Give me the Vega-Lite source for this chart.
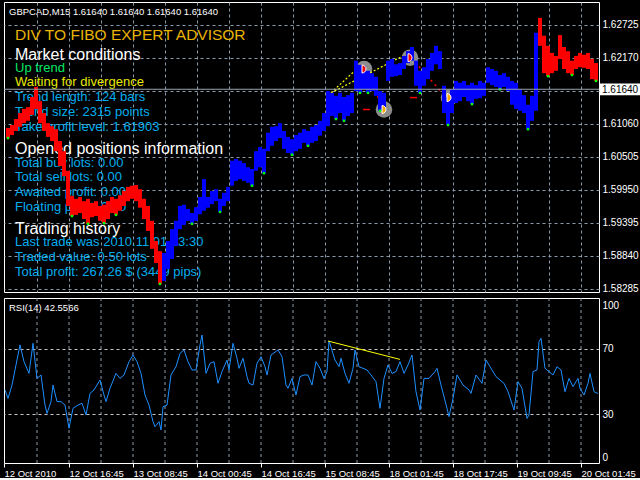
{
  "$schema": "https://vega.github.io/schema/vega-lite/v6.json",
  "background": "black",
  "padding": {"left": 2, "top": 1, "right": 0, "bottom": 0},
  "spacing": 2,
  "config": {
    "view": {"stroke": "white", "strokeWidth": 1},
    "axis": {"labelColor": "white", "labelFont": "Liberation Sans", "gridColor": "#8A9AAA", "gridOpacity": 1, "gridWidth": 1, "gridDash": [3, 3], "domain": false, "ticks": false, "labelOverlap": false},
    "text": {"font": "Liberation Sans"}
  },
  "datasets": {
    "bars": [
      {"bar": 6, "hi": 1.6099, "lo": 1.6082, "trend": "down"},
      {"bar": 10, "hi": 1.6104, "lo": 1.6087, "trend": "down"},
      {"bar": 14, "hi": 1.6114, "lo": 1.6094, "trend": "down"},
      {"bar": 18, "hi": 1.6124, "lo": 1.6101, "trend": "down"},
      {"bar": 22, "hi": 1.6131, "lo": 1.6107, "trend": "down"},
      {"bar": 26, "hi": 1.6134, "lo": 1.6111, "trend": "down"},
      {"bar": 30, "hi": 1.6151, "lo": 1.6121, "trend": "down"},
      {"bar": 34, "hi": 1.6168, "lo": 1.6131, "trend": "down"},
      {"bar": 38, "hi": 1.6144, "lo": 1.6107, "trend": "down"},
      {"bar": 42, "hi": 1.6124, "lo": 1.6094, "trend": "down"},
      {"bar": 46, "hi": 1.6107, "lo": 1.6084, "trend": "down"},
      {"bar": 50, "hi": 1.6102, "lo": 1.6077, "trend": "down"},
      {"bar": 54, "hi": 1.6097, "lo": 1.6060, "trend": "down"},
      {"bar": 58, "hi": 1.6077, "lo": 1.6035, "trend": "down"},
      {"bar": 62, "hi": 1.6060, "lo": 1.6018, "trend": "down"},
      {"bar": 66, "hi": 1.6027, "lo": 1.5968, "trend": "down"},
      {"bar": 70, "hi": 1.5985, "lo": 1.5951, "trend": "down"},
      {"bar": 74, "hi": 1.5980, "lo": 1.5953, "trend": "down"},
      {"bar": 78, "hi": 1.5983, "lo": 1.5956, "trend": "down"},
      {"bar": 82, "hi": 1.5976, "lo": 1.5946, "trend": "down"},
      {"bar": 86, "hi": 1.5980, "lo": 1.5938, "trend": "down"},
      {"bar": 90, "hi": 1.5973, "lo": 1.5949, "trend": "down"},
      {"bar": 94, "hi": 1.5976, "lo": 1.5951, "trend": "down"},
      {"bar": 98, "hi": 1.5968, "lo": 1.5943, "trend": "down"},
      {"bar": 102, "hi": 1.5970, "lo": 1.5939, "trend": "down"},
      {"bar": 106, "hi": 1.5976, "lo": 1.5946, "trend": "down"},
      {"bar": 110, "hi": 1.5983, "lo": 1.5956, "trend": "down"},
      {"bar": 114, "hi": 1.5980, "lo": 1.5953, "trend": "down"},
      {"bar": 118, "hi": 1.5986, "lo": 1.5960, "trend": "down"},
      {"bar": 122, "hi": 1.5993, "lo": 1.5968, "trend": "down"},
      {"bar": 126, "hi": 1.6000, "lo": 1.5976, "trend": "down"},
      {"bar": 130, "hi": 1.6002, "lo": 1.5980, "trend": "down"},
      {"bar": 134, "hi": 1.6003, "lo": 1.5976, "trend": "down"},
      {"bar": 138, "hi": 1.5996, "lo": 1.5965, "trend": "down"},
      {"bar": 142, "hi": 1.5980, "lo": 1.5946, "trend": "down"},
      {"bar": 146, "hi": 1.5968, "lo": 1.5926, "trend": "down"},
      {"bar": 150, "hi": 1.5943, "lo": 1.5896, "trend": "down"},
      {"bar": 154, "hi": 1.5909, "lo": 1.5872, "trend": "down"},
      {"bar": 158, "hi": 1.5892, "lo": 1.5837, "trend": "down"},
      {"bar": 162, "hi": 1.5889, "lo": 1.5842, "trend": "up"},
      {"bar": 166, "hi": 1.5909, "lo": 1.5862, "trend": "up"},
      {"bar": 170, "hi": 1.5929, "lo": 1.5879, "trend": "up"},
      {"bar": 174, "hi": 1.5943, "lo": 1.5901, "trend": "up"},
      {"bar": 178, "hi": 1.5968, "lo": 1.5929, "trend": "up"},
      {"bar": 182, "hi": 1.5970, "lo": 1.5936, "trend": "up"},
      {"bar": 186, "hi": 1.5963, "lo": 1.5943, "trend": "up"},
      {"bar": 190, "hi": 1.5956, "lo": 1.5938, "trend": "up"},
      {"bar": 194, "hi": 1.5966, "lo": 1.5943, "trend": "up"},
      {"bar": 198, "hi": 1.5983, "lo": 1.5954, "trend": "up"},
      {"bar": 202, "hi": 1.6013, "lo": 1.5960, "trend": "up"},
      {"bar": 206, "hi": 1.5983, "lo": 1.5965, "trend": "up"},
      {"bar": 210, "hi": 1.5993, "lo": 1.5971, "trend": "up"},
      {"bar": 214, "hi": 1.5996, "lo": 1.5976, "trend": "up"},
      {"bar": 218, "hi": 1.5980, "lo": 1.5958, "trend": "up"},
      {"bar": 222, "hi": 1.5990, "lo": 1.5968, "trend": "up"},
      {"bar": 226, "hi": 1.6000, "lo": 1.5976, "trend": "up"},
      {"bar": 230, "hi": 1.6044, "lo": 1.6002, "trend": "up"},
      {"bar": 234, "hi": 1.6047, "lo": 1.6010, "trend": "up"},
      {"bar": 238, "hi": 1.6044, "lo": 1.6013, "trend": "up"},
      {"bar": 242, "hi": 1.6040, "lo": 1.6010, "trend": "up"},
      {"bar": 246, "hi": 1.6033, "lo": 1.6007, "trend": "up"},
      {"bar": 250, "hi": 1.6030, "lo": 1.6002, "trend": "up"},
      {"bar": 254, "hi": 1.6060, "lo": 1.6027, "trend": "up"},
      {"bar": 258, "hi": 1.6067, "lo": 1.6033, "trend": "up"},
      {"bar": 262, "hi": 1.6064, "lo": 1.6023, "trend": "up"},
      {"bar": 266, "hi": 1.6091, "lo": 1.6060, "trend": "up"},
      {"bar": 270, "hi": 1.6101, "lo": 1.6069, "trend": "up"},
      {"bar": 274, "hi": 1.6102, "lo": 1.6077, "trend": "up"},
      {"bar": 278, "hi": 1.6107, "lo": 1.6082, "trend": "up"},
      {"bar": 282, "hi": 1.6094, "lo": 1.6064, "trend": "up"},
      {"bar": 286, "hi": 1.6084, "lo": 1.6057, "trend": "up"},
      {"bar": 290, "hi": 1.6080, "lo": 1.6054, "trend": "up"},
      {"bar": 294, "hi": 1.6087, "lo": 1.6060, "trend": "up"},
      {"bar": 298, "hi": 1.6091, "lo": 1.6064, "trend": "up"},
      {"bar": 302, "hi": 1.6097, "lo": 1.6074, "trend": "up"},
      {"bar": 306, "hi": 1.6094, "lo": 1.6069, "trend": "up"},
      {"bar": 310, "hi": 1.6101, "lo": 1.6074, "trend": "up"},
      {"bar": 314, "hi": 1.6104, "lo": 1.6077, "trend": "up"},
      {"bar": 318, "hi": 1.6111, "lo": 1.6086, "trend": "up"},
      {"bar": 322, "hi": 1.6124, "lo": 1.6094, "trend": "up"},
      {"bar": 326, "hi": 1.6161, "lo": 1.6102, "trend": "up"},
      {"bar": 330, "hi": 1.6158, "lo": 1.6119, "trend": "up"},
      {"bar": 334, "hi": 1.6153, "lo": 1.6114, "trend": "up"},
      {"bar": 338, "hi": 1.6158, "lo": 1.6124, "trend": "up"},
      {"bar": 342, "hi": 1.6151, "lo": 1.6111, "trend": "up"},
      {"bar": 346, "hi": 1.6154, "lo": 1.6119, "trend": "up"},
      {"bar": 350, "hi": 1.6158, "lo": 1.6124, "trend": "up"},
      {"bar": 354, "hi": 1.6212, "lo": 1.6161, "trend": "up"},
      {"bar": 358, "hi": 1.6205, "lo": 1.6158, "trend": "up"},
      {"bar": 362, "hi": 1.6203, "lo": 1.6164, "trend": "up"},
      {"bar": 366, "hi": 1.6195, "lo": 1.6158, "trend": "up"},
      {"bar": 370, "hi": 1.6191, "lo": 1.6161, "trend": "up"},
      {"bar": 374, "hi": 1.6185, "lo": 1.6153, "trend": "up"},
      {"bar": 378, "hi": 1.6161, "lo": 1.6128, "trend": "up"},
      {"bar": 382, "hi": 1.6158, "lo": 1.6131, "trend": "up"},
      {"bar": 386, "hi": 1.6212, "lo": 1.6178, "trend": "up"},
      {"bar": 390, "hi": 1.6215, "lo": 1.6185, "trend": "up"},
      {"bar": 394, "hi": 1.6206, "lo": 1.6186, "trend": "up"},
      {"bar": 398, "hi": 1.6208, "lo": 1.6188, "trend": "up"},
      {"bar": 402, "hi": 1.6220, "lo": 1.6198, "trend": "up"},
      {"bar": 406, "hi": 1.6228, "lo": 1.6208, "trend": "up"},
      {"bar": 410, "hi": 1.6235, "lo": 1.6212, "trend": "up"},
      {"bar": 414, "hi": 1.6212, "lo": 1.6170, "trend": "up"},
      {"bar": 418, "hi": 1.6195, "lo": 1.6158, "trend": "up"},
      {"bar": 422, "hi": 1.6201, "lo": 1.6170, "trend": "up"},
      {"bar": 426, "hi": 1.6215, "lo": 1.6181, "trend": "up"},
      {"bar": 430, "hi": 1.6225, "lo": 1.6195, "trend": "up"},
      {"bar": 434, "hi": 1.6237, "lo": 1.6206, "trend": "up"},
      {"bar": 438, "hi": 1.6228, "lo": 1.6198, "trend": "up"},
      {"bar": 442, "hi": 1.6170, "lo": 1.6124, "trend": "up"},
      {"bar": 446, "hi": 1.6151, "lo": 1.6104, "trend": "up"},
      {"bar": 450, "hi": 1.6164, "lo": 1.6124, "trend": "up"},
      {"bar": 454, "hi": 1.6178, "lo": 1.6141, "trend": "up"},
      {"bar": 458, "hi": 1.6175, "lo": 1.6144, "trend": "up"},
      {"bar": 462, "hi": 1.6178, "lo": 1.6151, "trend": "up"},
      {"bar": 466, "hi": 1.6171, "lo": 1.6144, "trend": "up"},
      {"bar": 470, "hi": 1.6175, "lo": 1.6139, "trend": "up"},
      {"bar": 474, "hi": 1.6171, "lo": 1.6148, "trend": "up"},
      {"bar": 478, "hi": 1.6178, "lo": 1.6149, "trend": "up"},
      {"bar": 482, "hi": 1.6175, "lo": 1.6153, "trend": "up"},
      {"bar": 486, "hi": 1.6201, "lo": 1.6175, "trend": "up"},
      {"bar": 490, "hi": 1.6198, "lo": 1.6171, "trend": "up"},
      {"bar": 494, "hi": 1.6195, "lo": 1.6168, "trend": "up"},
      {"bar": 498, "hi": 1.6188, "lo": 1.6164, "trend": "up"},
      {"bar": 502, "hi": 1.6191, "lo": 1.6168, "trend": "up"},
      {"bar": 506, "hi": 1.6185, "lo": 1.6161, "trend": "up"},
      {"bar": 510, "hi": 1.6178, "lo": 1.6138, "trend": "up"},
      {"bar": 514, "hi": 1.6175, "lo": 1.6131, "trend": "up"},
      {"bar": 518, "hi": 1.6164, "lo": 1.6128, "trend": "up"},
      {"bar": 522, "hi": 1.6154, "lo": 1.6124, "trend": "up"},
      {"bar": 526, "hi": 1.6138, "lo": 1.6097, "trend": "up"},
      {"bar": 530, "hi": 1.6153, "lo": 1.6111, "trend": "up"},
      {"bar": 534, "hi": 1.6259, "lo": 1.6128, "trend": "up"},
      {"bar": 538, "hi": 1.6284, "lo": 1.6237, "trend": "down"},
      {"bar": 542, "hi": 1.6254, "lo": 1.6191, "trend": "down"},
      {"bar": 546, "hi": 1.6237, "lo": 1.6186, "trend": "down"},
      {"bar": 550, "hi": 1.6225, "lo": 1.6191, "trend": "down"},
      {"bar": 554, "hi": 1.6220, "lo": 1.6195, "trend": "down"},
      {"bar": 558, "hi": 1.6255, "lo": 1.6215, "trend": "down"},
      {"bar": 562, "hi": 1.6235, "lo": 1.6198, "trend": "down"},
      {"bar": 566, "hi": 1.6228, "lo": 1.6191, "trend": "down"},
      {"bar": 570, "hi": 1.6212, "lo": 1.6188, "trend": "down"},
      {"bar": 574, "hi": 1.6220, "lo": 1.6198, "trend": "down"},
      {"bar": 578, "hi": 1.6225, "lo": 1.6201, "trend": "down"},
      {"bar": 582, "hi": 1.6222, "lo": 1.6200, "trend": "down"},
      {"bar": 586, "hi": 1.6225, "lo": 1.6198, "trend": "down"},
      {"bar": 590, "hi": 1.6215, "lo": 1.6181, "trend": "down"},
      {"bar": 594, "hi": 1.6208, "lo": 1.6178, "trend": "down"}
    ],
    "rsi": [
      {"bar": 3, "rsi": 44.8}, {"bar": 6, "rsi": 39.6}, {"bar": 10, "rsi": 47.8}, {"bar": 14, "rsi": 60.2},
      {"bar": 18, "rsi": 72.5}, {"bar": 22, "rsi": 62.2}, {"bar": 27, "rsi": 55.0}, {"bar": 31, "rsi": 73.5},
      {"bar": 35, "rsi": 51.9}, {"bar": 39, "rsi": 54.0}, {"bar": 43, "rsi": 35.5}, {"bar": 45, "rsi": 30.4},
      {"bar": 49, "rsi": 37.6}, {"bar": 51, "rsi": 47.8}, {"bar": 55, "rsi": 37.6}, {"bar": 59, "rsi": 37.6},
      {"bar": 63, "rsi": 35.5}, {"bar": 67, "rsi": 21.2}, {"bar": 71, "rsi": 33.5}, {"bar": 76, "rsi": 35.5},
      {"bar": 80, "rsi": 36.6}, {"bar": 84, "rsi": 29.4}, {"bar": 88, "rsi": 42.7}, {"bar": 92, "rsi": 44.8},
      {"bar": 98, "rsi": 50.9}, {"bar": 102, "rsi": 41.7}, {"bar": 104, "rsi": 37.6}, {"bar": 108, "rsi": 45.8},
      {"bar": 114, "rsi": 55.0}, {"bar": 118, "rsi": 51.9}, {"bar": 122, "rsi": 54.0}, {"bar": 127, "rsi": 62.2},
      {"bar": 131, "rsi": 66.3}, {"bar": 135, "rsi": 62.2}, {"bar": 139, "rsi": 55.0}, {"bar": 143, "rsi": 41.7},
      {"bar": 147, "rsi": 35.5}, {"bar": 151, "rsi": 25.3}, {"bar": 153, "rsi": 22.2}, {"bar": 157, "rsi": 25.3},
      {"bar": 159, "rsi": 20.2}, {"bar": 161, "rsi": 34.5}, {"bar": 165, "rsi": 35.5}, {"bar": 169, "rsi": 54.0},
      {"bar": 174, "rsi": 59.1}, {"bar": 178, "rsi": 67.3}, {"bar": 182, "rsi": 69.4}, {"bar": 186, "rsi": 62.2},
      {"bar": 190, "rsi": 57.1}, {"bar": 194, "rsi": 57.1}, {"bar": 198, "rsi": 72.5}, {"bar": 200, "rsi": 78.6},
      {"bar": 204, "rsi": 55.0}, {"bar": 208, "rsi": 61.2}, {"bar": 212, "rsi": 62.2}, {"bar": 216, "rsi": 48.9},
      {"bar": 220, "rsi": 56.1}, {"bar": 225, "rsi": 63.2}, {"bar": 227, "rsi": 57.1}, {"bar": 231, "rsi": 73.5},
      {"bar": 235, "rsi": 64.3}, {"bar": 237, "rsi": 58.1}, {"bar": 241, "rsi": 64.3}, {"bar": 245, "rsi": 53.0},
      {"bar": 247, "rsi": 48.9}, {"bar": 251, "rsi": 47.8}, {"bar": 255, "rsi": 61.2}, {"bar": 259, "rsi": 65.3},
      {"bar": 263, "rsi": 59.1}, {"bar": 265, "rsi": 54.0}, {"bar": 269, "rsi": 66.3}, {"bar": 276, "rsi": 69.4},
      {"bar": 280, "rsi": 65.3}, {"bar": 284, "rsi": 47.8}, {"bar": 286, "rsi": 45.8}, {"bar": 290, "rsi": 51.9},
      {"bar": 294, "rsi": 41.7}, {"bar": 298, "rsi": 53.0}, {"bar": 302, "rsi": 54.0}, {"bar": 306, "rsi": 54.0},
      {"bar": 310, "rsi": 47.8}, {"bar": 314, "rsi": 62.2}, {"bar": 318, "rsi": 58.1}, {"bar": 322, "rsi": 51.9},
      {"bar": 325, "rsi": 56.1}, {"bar": 327, "rsi": 75.0}, {"bar": 333, "rsi": 63.2}, {"bar": 337, "rsi": 59.1},
      {"bar": 339, "rsi": 64.3}, {"bar": 343, "rsi": 55.0}, {"bar": 347, "rsi": 48.9}, {"bar": 351, "rsi": 58.1},
      {"bar": 353, "rsi": 69.4}, {"bar": 357, "rsi": 59.1}, {"bar": 361, "rsi": 58.1}, {"bar": 365, "rsi": 57.1},
      {"bar": 369, "rsi": 54.0}, {"bar": 374, "rsi": 49.9}, {"bar": 378, "rsi": 33.5}, {"bar": 382, "rsi": 51.9},
      {"bar": 386, "rsi": 60.2}, {"bar": 390, "rsi": 55.0}, {"bar": 394, "rsi": 56.1}, {"bar": 398, "rsi": 62.2},
      {"bar": 402, "rsi": 55.0}, {"bar": 406, "rsi": 60.2}, {"bar": 410, "rsi": 66.3}, {"bar": 414, "rsi": 43.7},
      {"bar": 418, "rsi": 32.5}, {"bar": 422, "rsi": 51.9}, {"bar": 427, "rsi": 51.9}, {"bar": 433, "rsi": 56.1},
      {"bar": 435, "rsi": 58.1}, {"bar": 439, "rsi": 47.8}, {"bar": 445, "rsi": 33.5}, {"bar": 447, "rsi": 28.4},
      {"bar": 451, "rsi": 39.6}, {"bar": 455, "rsi": 54.0}, {"bar": 461, "rsi": 47.8}, {"bar": 467, "rsi": 44.8},
      {"bar": 469, "rsi": 42.7}, {"bar": 474, "rsi": 54.0}, {"bar": 480, "rsi": 48.9}, {"bar": 484, "rsi": 63.2},
      {"bar": 488, "rsi": 59.1}, {"bar": 494, "rsi": 53.0}, {"bar": 498, "rsi": 50.9}, {"bar": 502, "rsi": 48.9},
      {"bar": 506, "rsi": 43.7}, {"bar": 512, "rsi": 32.5}, {"bar": 516, "rsi": 49.9}, {"bar": 520, "rsi": 45.8},
      {"bar": 525, "rsi": 27.3}, {"bar": 527, "rsi": 29.4}, {"bar": 531, "rsi": 56.1}, {"bar": 535, "rsi": 57.1},
      {"bar": 537, "rsi": 74.5}, {"bar": 539, "rsi": 76.6}, {"bar": 543, "rsi": 58.1}, {"bar": 547, "rsi": 56.1},
      {"bar": 551, "rsi": 54.0}, {"bar": 555, "rsi": 59.1}, {"bar": 559, "rsi": 57.1}, {"bar": 563, "rsi": 43.7},
      {"bar": 567, "rsi": 51.9}, {"bar": 571, "rsi": 46.8}, {"bar": 576, "rsi": 51.9}, {"bar": 578, "rsi": 45.8},
      {"bar": 582, "rsi": 41.7}, {"bar": 586, "rsi": 48.9}, {"bar": 588, "rsi": 55.0}, {"bar": 592, "rsi": 43.7},
      {"bar": 596, "rsi": 42.6}
    ],
    "timeGrid": [
      {"bar": 35}, {"bar": 67}, {"bar": 99}, {"bar": 131}, {"bar": 163}, {"bar": 195}, {"bar": 227}, {"bar": 259}, {"bar": 291},
      {"bar": 323}, {"bar": 355}, {"bar": 387}, {"bar": 419}, {"bar": 451}, {"bar": 483}, {"bar": 515}, {"bar": 547}, {"bar": 579}
    ],
    "notes": [
      {"bar": 7, "price": 1.62888, "txt": "GBPCAD,M15  1.61640 1.61640 1.61640 1.61640", "kind": "symbol"},
      {"bar": 13, "price": 1.62468, "txt": "DIV TO FIBO EXPERT ADVISOR", "kind": "title"},
      {"bar": 13, "price": 1.62132, "txt": "Market conditions", "kind": "header"},
      {"bar": 13, "price": 1.6193, "txt": "Up trend", "kind": "trend"},
      {"bar": 13, "price": 1.61695, "txt": "Waiting for divergence", "kind": "status"},
      {"bar": 13, "price": 1.61435, "txt": "Trend length: 124 bars", "kind": "info"},
      {"bar": 13, "price": 1.61191, "txt": "Trend size: 2315 points", "kind": "info"},
      {"bar": 13, "price": 1.60939, "txt": "Take profit level: 1.61903", "kind": "info"},
      {"bar": 13, "price": 1.60553, "txt": "Opened positions information", "kind": "header"},
      {"bar": 13, "price": 1.60334, "txt": "Total buy lots: 0.00", "kind": "info"},
      {"bar": 13, "price": 1.60099, "txt": "Total sell lots: 0.00", "kind": "info"},
      {"bar": 13, "price": 1.59847, "txt": "Awaited profit: 0.00", "kind": "info"},
      {"bar": 13, "price": 1.59595, "txt": "Floating profit: 0.00", "kind": "info"},
      {"bar": 13, "price": 1.59209, "txt": "Trading history", "kind": "header"},
      {"bar": 13, "price": 1.59007, "txt": "Last trade was 2010.11.01 13:30", "kind": "info"},
      {"bar": 13, "price": 1.58755, "txt": "Traded value: 0.50 lots", "kind": "info"},
      {"bar": 13, "price": 1.58503, "txt": "Total profit: 267.26 $ (3449 pips)", "kind": "info"}
    ],
    "fibo": [
      {"b1": 329, "p1": 1.6158, "b2": 356, "p2": 1.6200},
      {"b1": 329, "p1": 1.6158, "b2": 401, "p2": 1.6220}
    ],
    "targets": [
      {"b1": 361, "p1": 1.613, "b2": 368, "p2": 1.613},
      {"b1": 408, "p1": 1.615, "b2": 415, "p2": 1.615}
    ],
    "paths": [
      {"b1": 367, "p1": 1.6179, "b2": 377, "p2": 1.6148},
      {"b1": 413, "p1": 1.621, "b2": 440, "p2": 1.6158}
    ],
    "swings": [
      {"bar": 362, "price": 1.6198, "kind": "high"},
      {"bar": 408, "price": 1.6217, "kind": "high"},
      {"bar": 382, "price": 1.613, "kind": "low"},
      {"bar": 447, "price": 1.615, "kind": "low"}
    ],
    "last": [{"price": 1.6164, "label": "1.61640"}],
    "rsiDiv": [{"b1": 326, "r1": 74.9, "b2": 398, "r2": 63.6}],
    "rsiNote": [{"bar": 7, "rsi": 93.1, "txt": "RSI(14) 42.5566"}]
  },
  "vconcat": [
    {
      "width": 595,
      "height": 290,
      "resolve": {"axis": {"x": "independent", "y": "independent"}},
      "layer": [
        {
          "data": {"name": "notes"},
          "transform": [{"filter": "datum.kind == 'trend' || datum.kind == 'status' || datum.kind == 'info'"}],
          "mark": {"type": "text", "align": "left", "baseline": "alphabetic", "fontSize": 13},
          "encoding": {
            "x": {"field": "bar", "type": "quantitative", "scale": {"domain": [2, 597], "nice": false, "zero": false},
              "axis": {"values": [35, 67, 99, 131, 163, 195, 227, 259, 291, 323, 355, 387, 419, 451, 483, 515, 547, 579], "labels": false, "grid": true, "title": null}},
            "y": {"field": "price", "type": "quantitative", "scale": {"domain": [1.58234, 1.63106], "nice": false, "zero": false},
              "axis": {"orient": "right", "values": [1.58285, 1.5884, 1.59395, 1.5995, 1.60505, 1.6106, 1.61615, 1.6217, 1.62725],
                "labelExpr": "abs(datum.value - 1.61615) < 0.00001 ? '' : format(datum.value, '.5f')",
                "grid": true, "labelFontSize": 10, "labelPadding": 3, "labelOverlap": false, "title": null}},
            "text": {"field": "txt"},
            "color": {"condition": [{"test": "datum.kind == 'trend'", "value": "#00E664"}, {"test": "datum.kind == 'status'", "value": "#E8E800"}], "value": "#00AEEF"}
          }
        },
        {
          "data": {"name": "notes"},
          "transform": [{"filter": "datum.kind == 'header'"}],
          "mark": {"type": "text", "align": "left", "baseline": "alphabetic", "fontSize": 16, "color": "white"},
          "encoding": {
            "x": {"field": "bar", "type": "quantitative", "axis": null},
            "y": {"field": "price", "type": "quantitative", "axis": null},
            "text": {"field": "txt"}
          }
        },
        {
          "data": {"name": "notes"},
          "transform": [{"filter": "datum.kind == 'title'"}],
          "mark": {"type": "text", "align": "left", "baseline": "alphabetic", "fontSize": 15.5, "color": "#EBB400"},
          "encoding": {
            "x": {"field": "bar", "type": "quantitative", "axis": null},
            "y": {"field": "price", "type": "quantitative", "axis": null},
            "text": {"field": "txt"}
          }
        },
        {
          "data": {"name": "notes"},
          "transform": [{"filter": "datum.kind == 'symbol'"}],
          "mark": {"type": "text", "align": "left", "baseline": "alphabetic", "fontSize": 9.5, "color": "white"},
          "encoding": {
            "x": {"field": "bar", "type": "quantitative", "axis": null},
            "y": {"field": "price", "type": "quantitative", "axis": null},
            "text": {"field": "txt"}
          }
        },
        {
          "data": {"name": "swings"},
          "mark": {"type": "point", "shape": "circle", "filled": true, "size": 275, "color": "#8C8C8C", "opacity": 1},
          "encoding": {
            "x": {"field": "bar", "type": "quantitative", "axis": null},
            "y": {"field": "price", "type": "quantitative", "axis": null}
          }
        },
        {
          "data": {"name": "fibo"},
          "mark": {"type": "rule", "color": "#FFFF00", "strokeWidth": 1.2, "strokeDash": [2, 2]},
          "encoding": {
            "x": {"field": "b1", "type": "quantitative", "axis": null},
            "y": {"field": "p1", "type": "quantitative", "axis": null},
            "x2": {"field": "b2"},
            "y2": {"field": "p2"}
          }
        },
        {
          "data": {"name": "targets"},
          "mark": {"type": "rule", "color": "#FF0000", "strokeWidth": 1.5},
          "encoding": {
            "x": {"field": "b1", "type": "quantitative", "axis": null},
            "y": {"field": "p1", "type": "quantitative", "axis": null},
            "x2": {"field": "b2"},
            "y2": {"field": "p2"}
          }
        },
        {
          "data": {"name": "paths"},
          "mark": {"type": "rule", "color": "#FF0000", "strokeWidth": 1.5, "strokeDash": [2, 4]},
          "encoding": {
            "x": {"field": "b1", "type": "quantitative", "axis": null},
            "y": {"field": "p1", "type": "quantitative", "axis": null},
            "x2": {"field": "b2"},
            "y2": {"field": "p2"}
          }
        },
        {
          "data": {"name": "bars"},
          "mark": {"type": "rule", "strokeWidth": 4},
          "encoding": {
            "x": {"field": "bar", "type": "quantitative", "axis": null},
            "y": {"field": "lo", "type": "quantitative", "axis": null},
            "y2": {"field": "hi"},
            "color": {"condition": {"test": "datum.trend == 'down'", "value": "#FF0000"}, "value": "#0000FF"}
          }
        },
        {
          "data": {"name": "bars"},
          "transform": [
            {"window": [{"op": "min", "field": "lo", "as": "localLow"}], "frame": [-1, 1], "sort": [{"field": "bar"}]},
            {"filter": "datum.lo <= datum.localLow"}
          ],
          "mark": {"type": "point", "shape": "square", "filled": true, "size": 6, "color": "#00FF00", "opacity": 1},
          "encoding": {
            "x": {"field": "bar", "type": "quantitative", "axis": null},
            "y": {"field": "lo", "type": "quantitative", "axis": null}
          }
        },
        {
          "data": {"name": "swings"},
          "mark": {"type": "point", "shape": "M-0.5,-1 A1,1 0 0,1 -0.5,1 Z", "filled": true, "size": 64, "stroke": "white", "strokeWidth": 1, "opacity": 1},
          "encoding": {
            "x": {"field": "bar", "type": "quantitative", "axis": null},
            "y": {"field": "price", "type": "quantitative", "axis": null},
            "fill": {"condition": {"test": "datum.kind == 'high'", "value": "#FF0000"}, "value": "#FFA500"}
          }
        },
        {
          "data": {"name": "last"},
          "mark": {"type": "rule", "color": "#98A4B0", "strokeWidth": 1},
          "encoding": {
            "y": {"field": "price", "type": "quantitative", "axis": null}
          }
        },
        {
          "data": {"name": "last"},
          "mark": {"type": "point", "shape": "M-1,-0.28 H1 V0.28 H-1 Z", "filled": true, "size": 1764, "color": "white", "opacity": 1},
          "encoding": {
            "x": {"datum": 619, "type": "quantitative", "axis": null},
            "y": {"field": "price", "type": "quantitative", "axis": null}
          }
        },
        {
          "data": {"name": "last"},
          "mark": {"type": "text", "align": "left", "baseline": "middle", "fontSize": 10, "color": "black", "dy": 1},
          "encoding": {
            "x": {"datum": 600, "type": "quantitative", "axis": null},
            "y": {"field": "price", "type": "quantitative", "axis": null},
            "text": {"field": "label"}
          }
        }
      ]
    },
    {
      "width": 595,
      "height": 165,
      "resolve": {"axis": {"x": "independent", "y": "independent"}},
      "layer": [
        {
          "data": {"name": "timeGrid"},
          "mark": {"type": "rule", "color": "#8A9AAA", "strokeWidth": 1, "strokeDash": [3, 3]},
          "encoding": {
            "x": {"field": "bar", "type": "quantitative", "axis": null}
          }
        },
        {
          "data": {"name": "rsi"},
          "mark": {"type": "line", "color": "#1E90FF", "strokeWidth": 1},
          "encoding": {
            "x": {"field": "bar", "type": "quantitative", "scale": {"domain": [2, 597], "nice": false, "zero": false},
              "axis": {"values": [2, 67, 131, 195, 259, 323, 387, 451, 515, 579],
                "labelExpr": "datum.value == 2 ? '12 Oct 2010' : datum.value == 67 ? '12 Oct 16:45' : datum.value == 131 ? '13 Oct 08:45' : datum.value == 195 ? '14 Oct 00:45' : datum.value == 259 ? '14 Oct 16:45' : datum.value == 323 ? '15 Oct 08:45' : datum.value == 387 ? '18 Oct 01:45' : datum.value == 451 ? '18 Oct 17:45' : datum.value == 515 ? '19 Oct 09:45' : '20 Oct 01:45'",
                "grid": false, "ticks": true, "tickSize": 4, "tickColor": "white",
                "labelAlign": "left", "labelFlush": false, "labelOverlap": false, "labelPadding": 1, "labelFontSize": 9.5, "title": null}},
            "y": {"field": "rsi", "type": "quantitative", "scale": {"domain": [-0.15, 101.38], "nice": false, "zero": false},
              "axis": {"orient": "right", "values": [0, 30, 70, 100], "grid": true,
                "gridColor": {"condition": {"test": "datum.value == 30 || datum.value == 70", "value": "#C8C8C8"}, "value": "transparent"},
                "labelBaseline": {"condition": [{"test": "datum.value == 100", "value": "top"}, {"test": "datum.value == 0", "value": "bottom"}], "value": "middle"},
                "labelFontSize": 10, "labelPadding": 3, "labelOverlap": false, "title": null}}
          }
        },
        {
          "data": {"name": "rsiDiv"},
          "mark": {"type": "rule", "color": "#FFFF00", "strokeWidth": 1},
          "encoding": {
            "x": {"field": "b1", "type": "quantitative", "axis": null},
            "y": {"field": "r1", "type": "quantitative", "axis": null},
            "x2": {"field": "b2"},
            "y2": {"field": "r2"}
          }
        },
        {
          "data": {"name": "rsiNote"},
          "mark": {"type": "text", "align": "left", "baseline": "alphabetic", "fontSize": 9.5, "color": "white"},
          "encoding": {
            "x": {"field": "bar", "type": "quantitative", "axis": null},
            "y": {"field": "rsi", "type": "quantitative", "axis": null},
            "text": {"field": "txt"}
          }
        }
      ]
    }
  ]
}
